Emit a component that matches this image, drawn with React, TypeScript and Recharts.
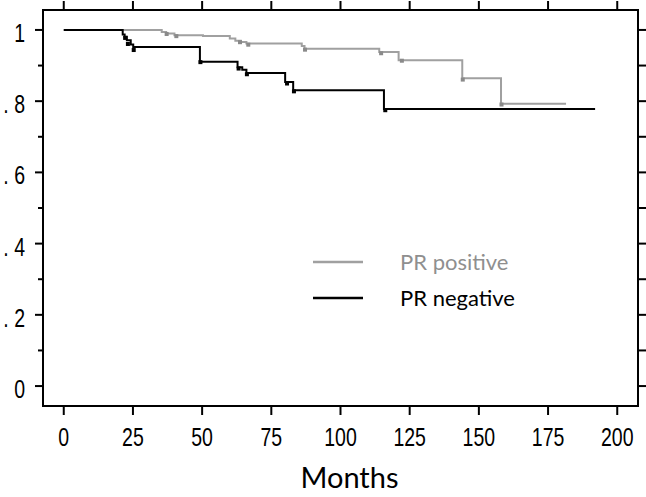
import { ComposedChart, Line, XAxis, YAxis } from 'recharts';

// months / survival
const monthTicks = [0, 25, 50, 75, 100, 125, 150, 175, 200];
const survTicks = [0, 0.1, 0.2, 0.3, 0.4, 0.5, 0.6, 0.7, 0.8, 0.9, 1];
const survMajor = [0, 0.2, 0.4, 0.6, 0.8, 1];
const survLabels = ['0', '. 2', '. 4', '. 6', '. 8', '1'];

const posMonths = [0, 35.4, 37, 40, 50.3, 60, 62, 64, 66, 86, 87, 114, 121, 144, 158, 181.5];
const posSurv = [1, 0.994, 0.99, 0.985, 0.983, 0.976, 0.97, 0.966, 0.962, 0.955, 0.947, 0.938, 0.915, 0.864, 0.793, 0.793];
const posCensorMonths = [37, 40.5, 63.5, 66.5, 87, 114.5, 122, 144, 158];
const posCensorSurv = [0.99, 0.984, 0.967, 0.96, 0.946, 0.936, 0.915, 0.862, 0.792];

const negMonths = [0, 21.3, 22, 22.8, 24.2, 25.1, 49.2, 62.8, 64.5, 66, 80, 82.9, 115.7, 192];
const negSurv = [1, 0.987, 0.981, 0.971, 0.959, 0.952, 0.911, 0.895, 0.888, 0.879, 0.854, 0.831, 0.778, 0.778];
const negCensorMonths = [22, 23, 25.1, 49.2, 63, 66, 80.5, 83, 116];
const negCensorSurv = [0.979, 0.962, 0.945, 0.911, 0.893, 0.877, 0.851, 0.829, 0.776];

const seriesNames = ['PR positive', 'PR negative'];
const seriesColors = ['#a0a0a0', '#000000'];
const legendTextColors = ['#8f8f8f', '#000000'];

const zip = (ms: number[], ss: number[]) => ms.map((m, i) => ({ m, s: ss[i] }));
const posData = zip(posMonths, posSurv);
const negData = zip(negMonths, negSurv);
const posCensor = zip(posCensorMonths, posCensorSurv);
const negCensor = zip(negCensorMonths, negCensorSurv);

const tickFont = "'Liberation Sans', Arial, sans-serif";
const labelFont = "Lato, 'Open Sans', sans-serif";
const NARROW = 0.78;
const TICK = 8;

function LeftTick(props: any) {
  const { x, y, payload } = props;
  const idx = survMajor.indexOf(payload.value);
  const major = idx >= 0;
  const axisX = x + TICK;
  return (
    <g>
      <line x1={major ? x : x + 3} x2={axisX} y1={y} y2={y} stroke="#000" strokeWidth={2} />
      {major && (
        <text
          transform={`translate(${x - 10},${y + 12}) scale(${NARROW},1)`}
          textAnchor="end"
          fontFamily={tickFont}
          fontSize={25}
          fill="#000"
        >
          {survLabels[idx]}
        </text>
      )}
    </g>
  );
}

function BottomTick(props: any) {
  const { x, y, payload } = props;
  return (
    <text
      transform={`translate(${x},${y + 31}) scale(${NARROW},1)`}
      textAnchor="middle"
      fontFamily={tickFont}
      fontSize={25}
      fill="#000"
    >
      {payload.value}
    </text>
  );
}

const noLabel = () => <g />;

function squareDot(color: string) {
  return (p: any) => {
    if (p.cx == null || p.cy == null) return <g key={p.index} />;
    return <rect key={p.index} x={p.cx - 1.5} y={p.cy - 1.5} width={4} height={4} fill={color} />;
  };
}

function KmLegend() {
  return (
    <div style={{ position: 'absolute', left: 313, top: 244, display: 'flex', flexDirection: 'column' }}>
      {seriesNames.map((name, i) => (
        <div key={name} style={{ display: 'flex', alignItems: 'center', height: 36 }}>
          <svg width={50} height={36} style={{ display: 'block' }}>
            <line x1={0} x2={50} y1={18} y2={18} stroke={seriesColors[i]} strokeWidth={2.5} />
          </svg>
          <span style={{ marginLeft: 37, fontFamily: labelFont, fontSize: 22, color: legendTextColors[i], lineHeight: '36px' }}>
            {name}
          </span>
        </div>
      ))}
    </div>
  );
}

const axisLine = { stroke: '#000', strokeWidth: 2, strokeLinecap: 'square' as const };
const tickLine = { stroke: '#000', strokeWidth: 2 };

export default function App() {
  return (
    <div style={{ position: 'absolute', left: 0, top: 0, width: 646, height: 497, background: '#fff' }}>
      <ComposedChart width={646} height={497} margin={{ top: 0, right: 0, bottom: 0, left: 0 }}>
        <XAxis
          xAxisId="b"
          dataKey="m"
          type="number"
          domain={[-7.5, 207.5]}
          ticks={monthTicks}
          allowDataOverflow
          height={91}
          axisLine={axisLine}
          tickLine={tickLine}
          tickSize={9}
          tickMargin={0}
          interval={0}
          tick={<BottomTick />}
          label={{
            content: (p: any) => {
              const vb = p.viewBox;
              return (
                <text x={vb.x + vb.width / 2 + 9} y={vb.y + vb.height - 9} textAnchor="middle" fontFamily={labelFont} fontSize={29} fill="#000">
                  Months
                </text>
              );
            },
          }}
        />
        <XAxis
          xAxisId="t"
          orientation="top"
          dataKey="m"
          type="number"
          domain={[-7.5, 207.5]}
          ticks={monthTicks}
          allowDataOverflow
          height={10}
          axisLine={axisLine}
          tickLine={tickLine}
          tickSize={9}
          interval={0}
          tick={noLabel}
        />
        <YAxis
          yAxisId="l"
          dataKey="s"
          type="number"
          domain={[-0.056, 1.056]}
          ticks={survTicks}
          allowDataOverflow
          width={43}
          axisLine={axisLine}
          tickLine={false}
          tickSize={TICK}
          tickMargin={0}
          interval={0}
          tick={<LeftTick />}
        />
        <YAxis
          yAxisId="r"
          orientation="right"
          dataKey="s"
          type="number"
          domain={[-0.056, 1.056]}
          ticks={survTicks}
          allowDataOverflow
          width={8}
          axisLine={axisLine}
          tickLine={tickLine}
          tickSize={8}
          interval={0}
          tick={noLabel}
        />
        <Line
          xAxisId="b"
          yAxisId="l"
          data={posData}
          dataKey="s"
          type="stepAfter"
          stroke={seriesColors[0]}
          strokeWidth={2}
          dot={false}
          activeDot={false}
          isAnimationActive={false}
        />
        <Line
          xAxisId="b"
          yAxisId="l"
          data={negData}
          dataKey="s"
          type="stepAfter"
          stroke={seriesColors[1]}
          strokeWidth={2}
          dot={false}
          activeDot={false}
          isAnimationActive={false}
        />
        <Line
          xAxisId="b"
          yAxisId="l"
          data={posCensor}
          dataKey="s"
          stroke="none"
          dot={squareDot('#8a8a8a')}
          activeDot={false}
          isAnimationActive={false}
        />
        <Line
          xAxisId="b"
          yAxisId="l"
          data={negCensor}
          dataKey="s"
          stroke="none"
          dot={squareDot('#000')}
          activeDot={false}
          isAnimationActive={false}
        />
      </ComposedChart>
      <KmLegend />
    </div>
  );
}
